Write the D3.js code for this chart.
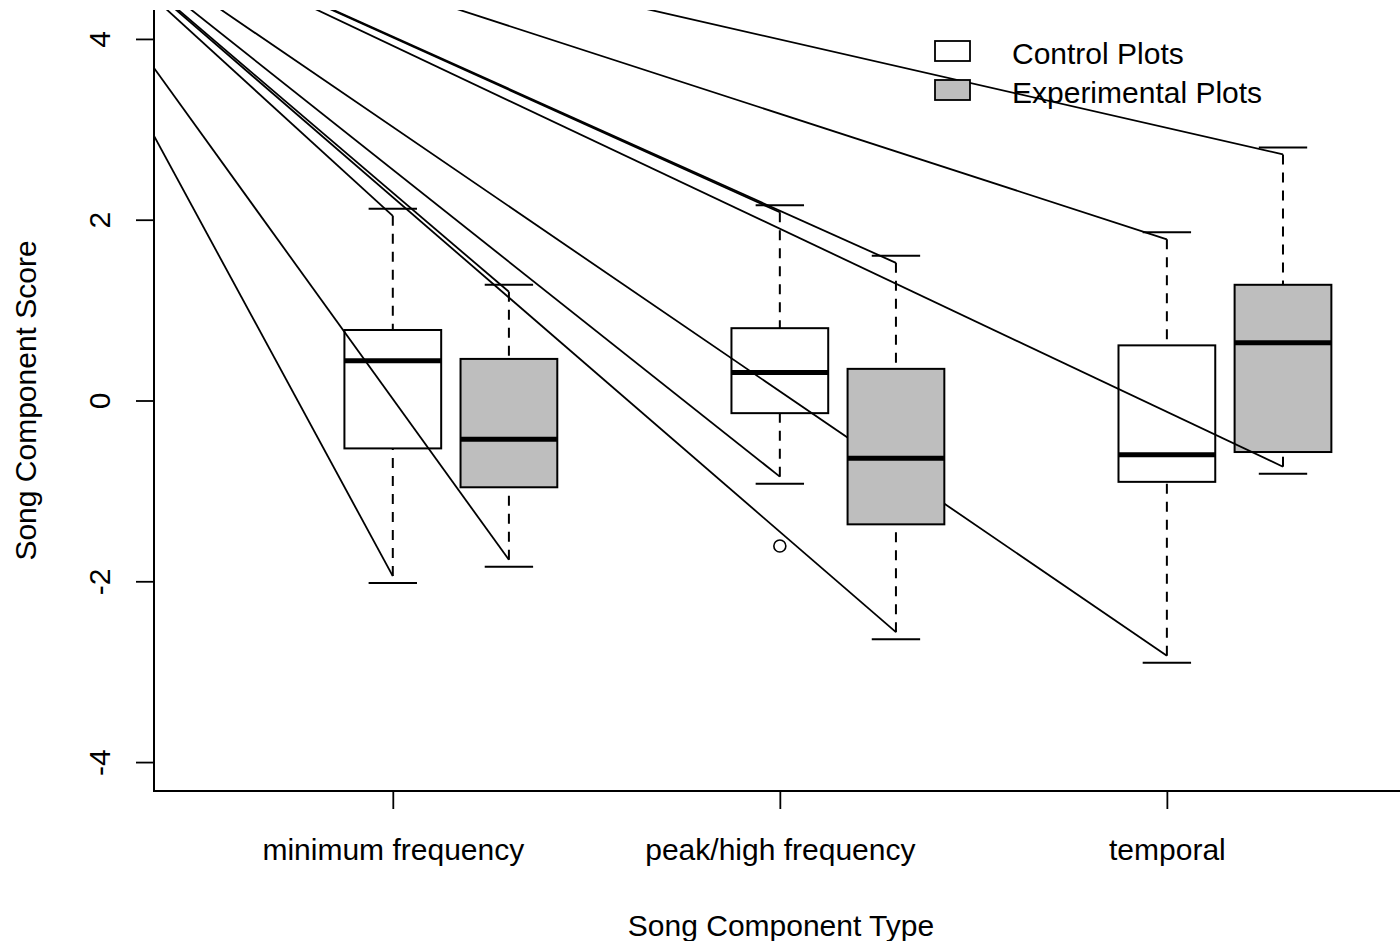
<!DOCTYPE html>
<html>
<head>
<meta charset="utf-8">
<script src="https://cdn.jsdelivr.net/npm/d3@7"></script>
<style>
  html, body { margin: 0; padding: 0; background: #fff; }
  svg { display: block; }
</style>
</head>
<body>
<svg id="chart" width="1400" height="948"></svg>
<script>
// Song component scores by component type, control vs. experimental plots
const categories = ["minimum frequency", "peak/high frequency", "temporal"];
const groupNames = ["Control Plots", "Experimental Plots"];

// Box summaries per category: [lower whisker, Q1, median, Q3, upper whisker]
const controlStats = [
  [-2.02, -0.53, 0.44, 0.78, 2.12],
  [-0.92, -0.14, 0.31, 0.80, 2.16],
  [-2.90, -0.90, -0.60, 0.61, 1.86]
];
const experimentalStats = [
  [-1.84, -0.96, -0.43, 0.46, 1.28],
  [-2.64, -1.37, -0.64, 0.35, 1.60],
  [-0.81, -0.57, 0.64, 1.28, 2.80]
];
const controlOutliers = [[], [-1.61], []];
const experimentalOutliers = [[], [], []];

const yTicks = [-4, -2, 0, 2, 4];

// Common start point of the stray whisker strokes: [box position, score]
const rayOrigin = [0, 5.95];

const W = 1400, H = 948;
const plot = { left: 154, right: 1408, top: 10, bottom: 791 };
const font = "'Liberation Sans', Arial, Helvetica, sans-serif";
const fontSize = 30;

const x = d3.scaleLinear().domain([0.383, 3.623]).range([plot.left, plot.right]);
const y = d3.scaleLinear().domain([-4.32, 4.32]).range([plot.bottom, plot.top]);

const boxWidth = 0.25;   // in position units
const stapleWidth = 0.125;
const groupOffset = [0, 0.3];
const fills = ["none", "#bebebe"];
const legendFills = ["#ffffff", "#bebebe"];
const whiskerGap = 7;    // px between whisker end and staple

const svg = d3.select("#chart");
svg.append("rect").attr("width", W).attr("height", H).attr("fill", "#fff");

const defs = svg.append("defs");
defs.append("clipPath").attr("id", "plotClip")
  .append("rect")
  .attr("x", plot.left).attr("y", plot.top)
  .attr("width", plot.right - plot.left).attr("height", plot.bottom - plot.top);
// the device edge trims the bottom of the x title
defs.append("clipPath").attr("id", "deviceClip")
  .append("rect").attr("x", 0).attr("y", 0).attr("width", W).attr("height", 941);

const series = [
  { stats: controlStats, outliers: controlOutliers },
  { stats: experimentalStats, outliers: experimentalOutliers }
];

series.forEach((s, si) => {
  const layer = svg.append("g").attr("class", "series-" + si);
  s.stats.forEach((st, i) => {
    const pos = i + 1 + groupOffset[si];
    const cx = x(pos);
    const [lo, q1, med, q3, hi] = st;
    const g = layer.append("g");

    g.append("rect")
      .attr("x", x(pos - boxWidth / 2))
      .attr("width", x(pos + boxWidth / 2) - x(pos - boxWidth / 2))
      .attr("y", y(q3))
      .attr("height", y(q1) - y(q3))
      .attr("fill", fills[si])
      .attr("stroke", "#000")
      .attr("stroke-width", 2);

    g.append("line")
      .attr("x1", x(pos - boxWidth / 2)).attr("x2", x(pos + boxWidth / 2))
      .attr("y1", y(med)).attr("y2", y(med))
      .attr("stroke", "#000").attr("stroke-width", 5);

    const whiskers = [
      { end: y(hi) + whiskerGap, box: y(q3), staple: y(hi) },
      { end: y(lo) - whiskerGap, box: y(q1), staple: y(lo) }
    ];
    whiskers.forEach(w => {
      g.append("line")
        .attr("x1", cx).attr("x2", cx)
        .attr("y1", w.end).attr("y2", w.box)
        .attr("stroke", "#000").attr("stroke-width", 2)
        .attr("stroke-dasharray", "10,8");

      g.append("line")
        .attr("clip-path", "url(#plotClip)")
        .attr("x1", x(rayOrigin[0])).attr("y1", y(rayOrigin[1]))
        .attr("x2", cx).attr("y2", w.end)
        .attr("stroke", "#000").attr("stroke-width", 1.8);

      g.append("line")
        .attr("x1", x(pos - stapleWidth / 2)).attr("x2", x(pos + stapleWidth / 2))
        .attr("y1", w.staple).attr("y2", w.staple)
        .attr("stroke", "#000").attr("stroke-width", 2);
    });

    s.outliers[i].forEach(v => {
      g.append("circle")
        .attr("cx", cx).attr("cy", y(v)).attr("r", 6)
        .attr("fill", "none").attr("stroke", "#000").attr("stroke-width", 1.6);
    });
  });
});

// Axes
const yAxis = d3.axisLeft(y).tickValues(yTicks).tickSize(18).tickSizeOuter(0)
  .tickFormat(d => String(d));
const gy = svg.append("g").attr("transform", `translate(${plot.left},0)`).call(yAxis);
gy.select(".domain").remove();
gy.selectAll(".tick line").attr("stroke", "#000").attr("stroke-width", 1.8);
gy.selectAll(".tick text")
  .attr("x", null).attr("dy", null)
  .attr("transform", "translate(-44,0) rotate(-90)")
  .attr("text-anchor", "middle")
  .attr("fill", "#000")
  .style("font-family", font).style("font-size", fontSize + "px");

const xAxis = d3.axisBottom(x).tickValues([1, 2, 3]).tickSize(18).tickSizeOuter(0)
  .tickFormat((d, i) => categories[i]);
const gx = svg.append("g").attr("transform", `translate(0,${plot.bottom})`).call(xAxis);
gx.select(".domain").remove();
gx.selectAll(".tick line").attr("stroke", "#000").attr("stroke-width", 1.8);
gx.selectAll(".tick text")
  .attr("y", 69).attr("dy", null)
  .attr("fill", "#000")
  .style("font-family", font).style("font-size", fontSize + "px");

// L-shaped frame
svg.append("path")
  .attr("d", `M${plot.left},${plot.top}V${plot.bottom}H${plot.right}`)
  .attr("fill", "none").attr("stroke", "#000").attr("stroke-width", 2);

// Axis titles
svg.append("text")
  .attr("transform", `translate(36,${(plot.top + plot.bottom) / 2}) rotate(-90)`)
  .attr("text-anchor", "middle")
  .style("font-family", font).style("font-size", fontSize + "px")
  .text("Song Component Score");

svg.append("text")
  .attr("clip-path", "url(#deviceClip)")
  .attr("x", (plot.left + plot.right) / 2).attr("y", 936)
  .attr("text-anchor", "middle")
  .style("font-family", font).style("font-size", fontSize + "px")
  .text("Song Component Type");

// Legend
const legend = svg.append("g").attr("transform", "translate(935,41)");
groupNames.forEach((name, i) => {
  const row = legend.append("g").attr("transform", `translate(0,${i * 39})`);
  row.append("rect")
    .attr("width", 35).attr("height", 20)
    .attr("fill", legendFills[i]).attr("stroke", "#000").attr("stroke-width", 1.8);
  row.append("text")
    .attr("x", 77).attr("y", 23)
    .style("font-family", font).style("font-size", fontSize + "px")
    .text(name);
});
</script>
</body>
</html>
